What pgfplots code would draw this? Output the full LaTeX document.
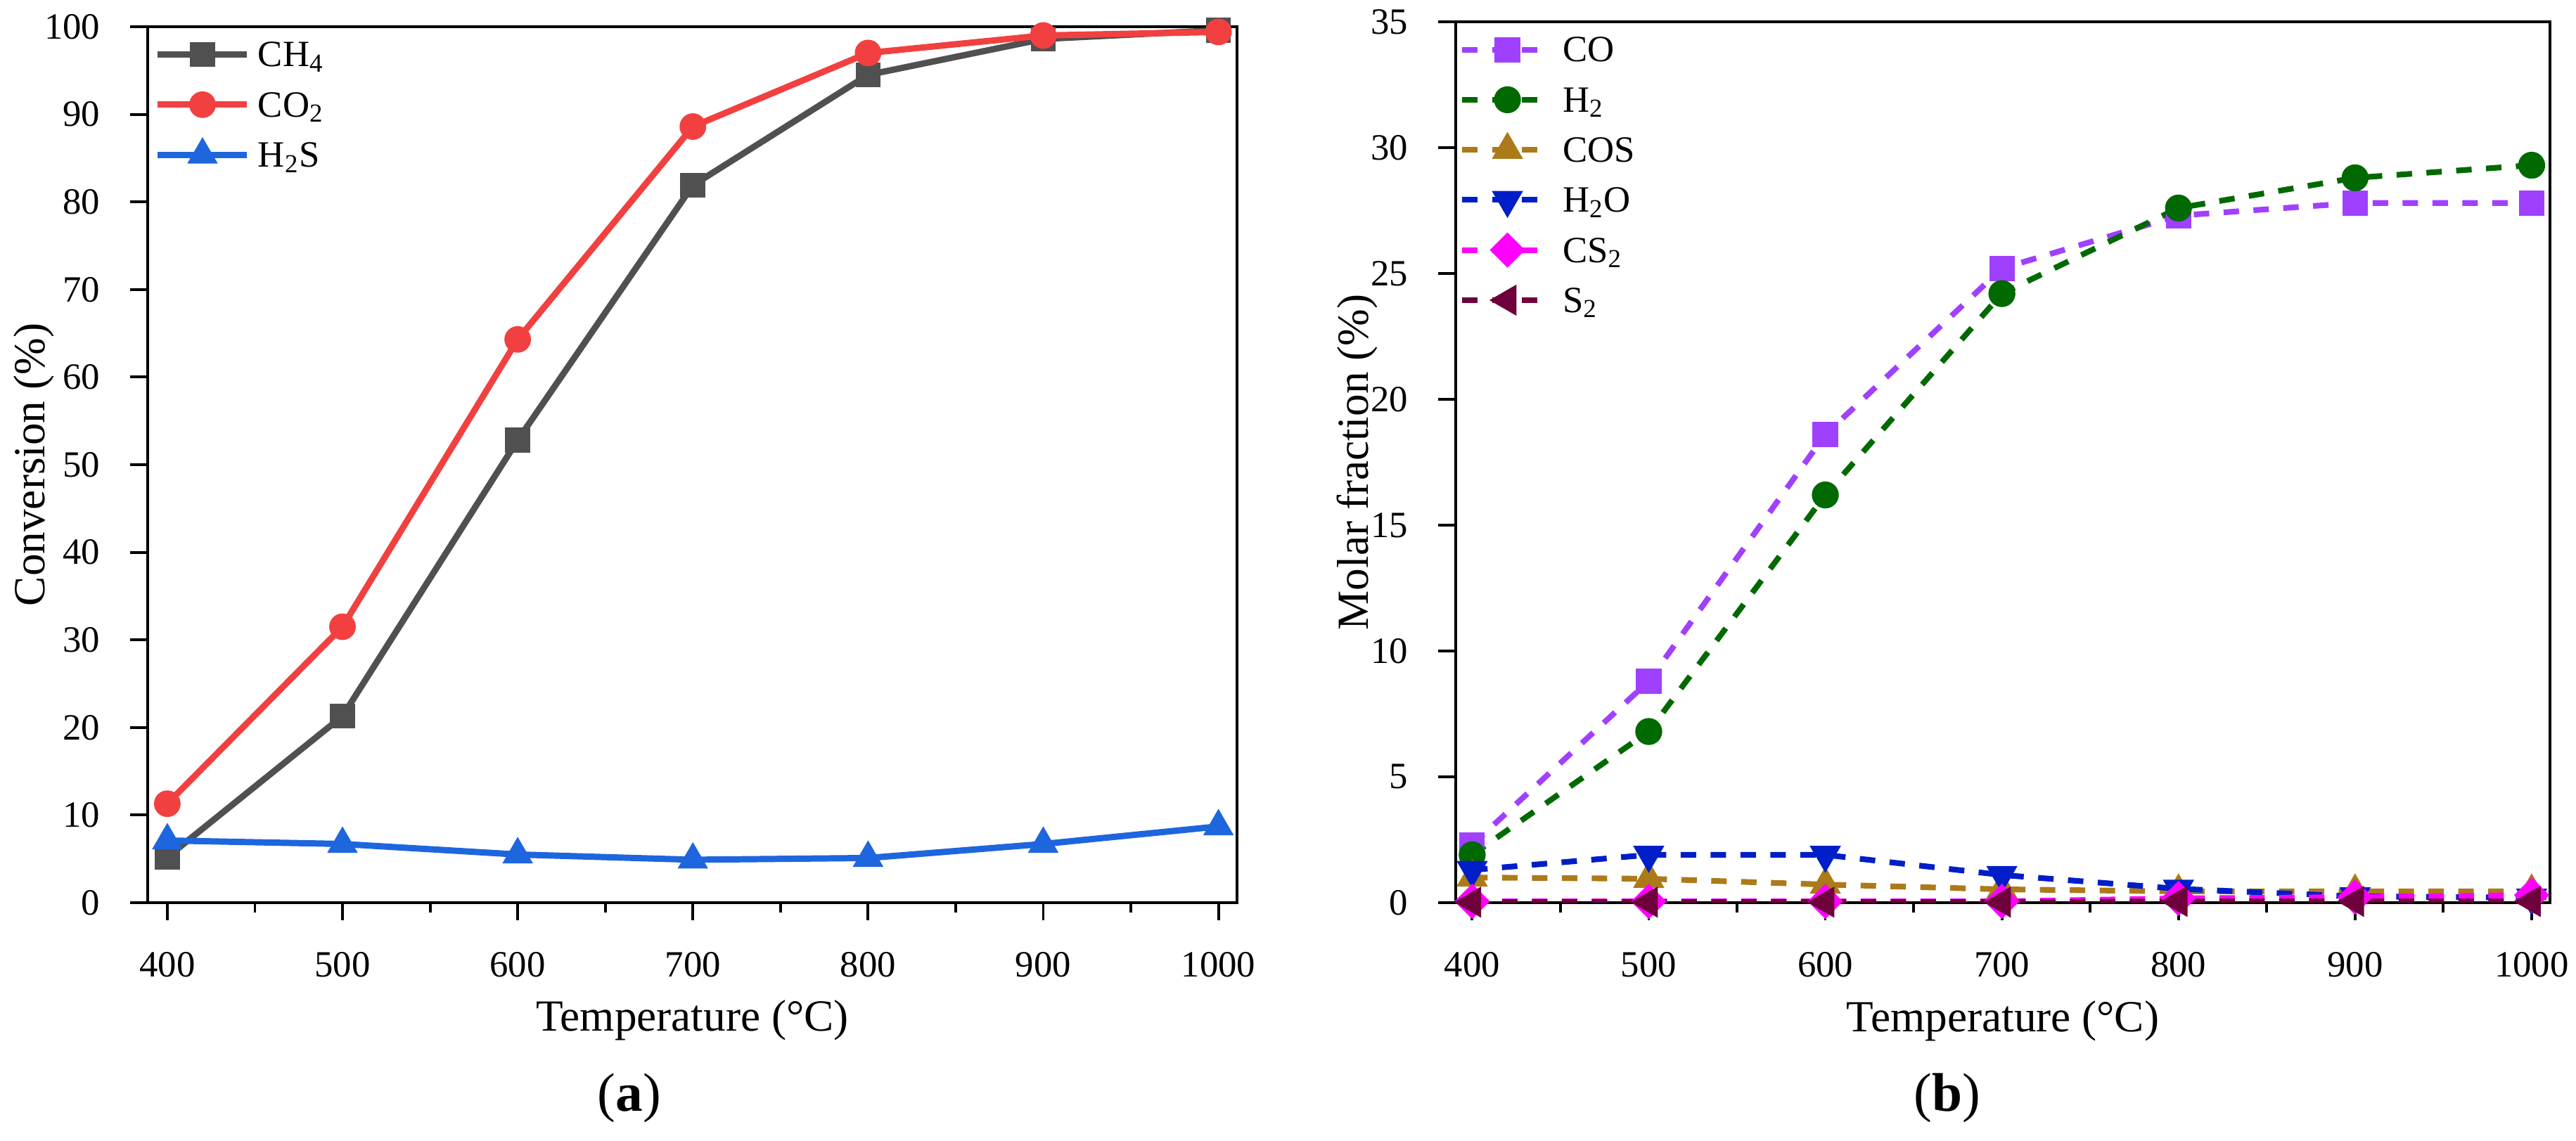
\documentclass[border=0pt]{standalone}
\usepackage{fontspec}
\setmainfont{Liberation Serif}
\usepackage{pgfplots}
\usepackage{pgfplotstable}
\pgfplotsset{compat=1.18}
\definecolor{cch4}{RGB}{80,80,80}
\definecolor{cco2}{RGB}{242,64,64}
\definecolor{ch2s}{RGB}{30,102,222}
\definecolor{cco}{RGB}{160,64,255}
\definecolor{ch2}{RGB}{0,105,0}
\definecolor{ccos}{RGB}{172,122,24}
\definecolor{ch2o}{RGB}{0,30,200}
\definecolor{ccs2}{RGB}{255,0,255}
\definecolor{csd}{RGB}{110,0,60}
\pgfplotstableread{
T CH4 CO2 H2S
400 5.2 11.3 7.1
500 21.3 31.5 6.7
600 52.8 64.3 5.5
700 81.9 88.6 4.9
800 94.5 97.0 5.1
900 98.6 99.0 6.7
1000 99.6 99.4 8.7
}\lefttab
\pgfplotstableread{
T CO H2 COS H2O CS2 S2
400 2.3 1.9 1.0 1.3 0.05 0.02
500 8.8 6.8 0.95 1.9 0.05 0.02
600 18.6 16.2 0.72 1.9 0.05 0.02
700 25.2 24.2 0.53 1.1 0.05 0.02
800 27.3 27.6 0.45 0.55 0.17 0.05
900 27.8 28.8 0.45 0.25 0.22 0.05
1000 27.8 29.3 0.45 0.2 0.3 0.05
}\righttab
\pgfplotsset{
  common/.style={
    scale only axis,
    axis line style={line width=1.1pt},
    tick style={black, line width=1.1pt},
    tick align=outside,
    major tick length=0.25cm,
    minor tick length=0.14cm,
    xtick pos=bottom, ytick pos=left,
    xtick={400,500,600,700,800,900,1000},
    minor x tick num=1,
    /pgf/number format/1000 sep={},
    /pgf/number format/assume math mode=true,
    tick label style={font=\fontsize{15}{18}\selectfont, inner sep=0pt},
    xticklabel style={anchor=center, yshift=-0.63cm},
    yticklabel style={anchor=east, xshift=-0.42cm},
    xlabel={Temperature (°C)},
    every axis x label/.style={at={(axis description cs:0.5,-0.134)}, anchor=center, font=\fontsize{18}{22}\selectfont},
    legend style={draw=none, fill=none, inner sep=0pt, outer sep=0pt, anchor=north west,
      at={(axis description cs:0,1)}, font=\fontsize{15}{18}\selectfont,
      nodes={inner sep=0pt, text height=0.4cm}, row sep=0.26cm},
    legend cell align=left,
  }
}
\begin{document}
\begin{tikzpicture}
\path[use as bounding box] (0,0) rectangle (36.63cm,16.23cm);
\begin{axis}[common,
  at={(2.10cm,3.39cm)}, anchor=south west, width=15.49cm, height=12.46cm,
  xmin=388.8, xmax=1010.6, ymin=0, ymax=100, ytick={0,10,...,100},
  ylabel={Conversion (\%)},
  every axis y label/.style={at={(axis description cs:-0.1046,0.5)}, rotate=90, anchor=center, font=\fontsize{18}{22}\selectfont},
  legend style={xshift=0.1cm, yshift=-0.17cm, column sep=0.11cm},
  legend image code/.code={\draw[mark repeat=2,mark phase=2,#1] plot coordinates {(0cm,0cm) (0.635cm,0cm) (1.27cm,0cm)};},
  every axis plot/.append style={line width=2.55pt, mark options={solid}},
]
\addplot[color=cch4, mark=square*, mark size=3.8pt] table[x=T,y=CH4] {\lefttab};
\addlegendentry{CH\textsubscript{4}}
\addplot[color=cco2, mark=*, mark size=4.1pt] table[x=T,y=CO2] {\lefttab};
\addlegendentry{CO\textsubscript{2}}
\addplot[color=ch2s, mark=triangle*, mark size=4.6pt] table[x=T,y=H2S] {\lefttab};
\addlegendentry{H\textsubscript{2}S}
\end{axis}
\begin{axis}[common,
  at={(20.70cm,3.39cm)}, anchor=south west, width=15.56cm, height=12.53cm,
  xmin=390.7, xmax=1010.4, ymin=0, ymax=35, ytick={0,5,...,35},
  ylabel={Molar fraction (\%)},
  every axis y label/.style={at={(axis description cs:-0.090,0.5)}, rotate=90, anchor=center, font=\fontsize{18}{22}\selectfont},
  legend style={xshift=0.05cm, yshift=-0.17cm, column sep=0.31cm},
  legend image code/.code={\draw[mark repeat=2,mark phase=2,#1] plot coordinates {(0cm,0cm) (0.645cm,0cm) (1.08cm,0cm)};},
  every axis plot/.append style={line width=2.3pt, dash pattern=on 0.22cm off 0.205cm, mark options={solid}},
]
\addplot[color=cco, mark=square*, mark size=4pt] table[x=T,y=CO] {\righttab};
\addlegendentry{CO}
\addplot[color=ch2, mark=*, mark size=4.3pt] table[x=T,y=H2] {\righttab};
\addlegendentry{H\textsubscript{2}}
\addplot[color=ccos, mark=triangle*, mark size=5pt] table[x=T,y=COS] {\righttab};
\addlegendentry{COS}
\addplot[color=ch2o, mark=triangle*, mark size=5pt, mark options={solid, rotate=180}] table[x=T,y=H2O] {\righttab};
\addlegendentry{H\textsubscript{2}O}
\addplot[color=ccs2, mark=square*, mark size=3.9pt, mark options={solid, rotate=45}] table[x=T,y=CS2] {\righttab};
\addlegendentry{CS\textsubscript{2}}
\addplot[color=csd, mark=triangle*, mark size=5pt, mark options={solid, rotate=90}] table[x=T,y=S2] {\righttab};
\addlegendentry{S\textsubscript{2}}
\end{axis}
\node[font=\fontsize{22}{26}\selectfont] at (8.95cm,0.61cm) {(\textbf{a})};
\node[font=\fontsize{22}{26}\selectfont] at (27.69cm,0.61cm) {(\textbf{b})};
\end{tikzpicture}
\end{document}
